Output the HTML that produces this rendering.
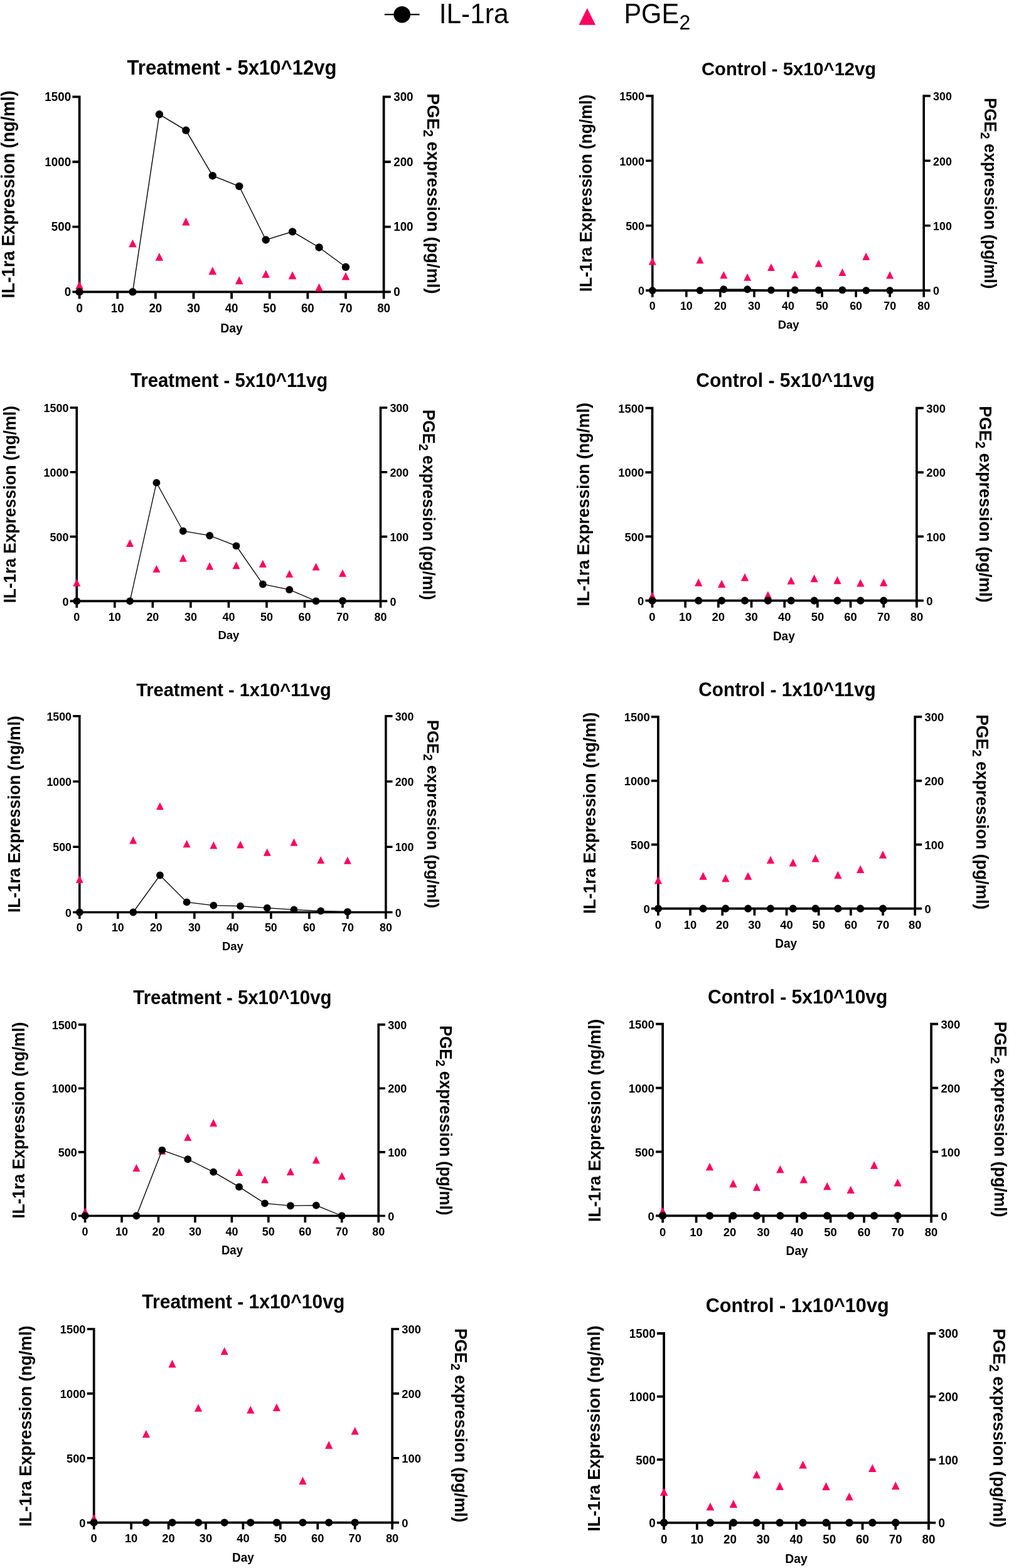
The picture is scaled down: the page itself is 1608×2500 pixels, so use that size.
<!DOCTYPE html>
<html lang="en">
<head>
<meta charset="utf-8">
<title>IL-1ra and PGE2 expression</title>
<style>
html,body{margin:0;padding:0;background:#fff}
body{width:1608px;height:2500px;overflow:hidden}
svg{display:block}
svg text{font-family:"Liberation Sans", sans-serif;fill:#000}
svg .b, svg .b text{font-weight:bold}
</style>
</head>
<body>
<svg width="1608" height="2500" viewBox="0 0 1608 2500">
<rect width="1608" height="2500" fill="#fff"/>
<g class="legend">
<path d="M612.8 23.2H668.6" stroke="#000" stroke-width="2.3"/>
<circle cx="640.7" cy="23.2" r="13.3"/>
<text transform="translate(699.7 37) scale(0.988 1.020)" font-size="43">IL-1ra</text>
<path d="M935.8 13.1L949.1 39.7L922.5 39.7Z" fill="#FF0062"/>
<text transform="translate(994.4 37) scale(0.966 1.020)" font-size="43">PGE</text>
<text transform="translate(1082.6 46.6) scale(1 1.02)" font-size="32">2</text>
</g>
<g class="panel">
<text class="b" transform="translate(369.5 119.2) scale(1 1.04)" font-size="31.05" text-anchor="middle">Treatment - 5x10^12vg</text>
<path d="M126.6 152.4V467.3M611.6 152.4V467.3M124.7 465.4H613.5M115.4 465.4H126.6M611.6 465.4H622.8M115.4 361.7H126.6M611.6 361.7H622.8M115.4 258H126.6M611.6 258H622.8M115.4 154.3H126.6M611.6 154.3H622.8M126.6 465.4V476.6M187.22 465.4V476.6M247.85 465.4V476.6M308.48 465.4V476.6M369.1 465.4V476.6M429.73 465.4V476.6M490.35 465.4V476.6M550.98 465.4V476.6M611.6 465.4V476.6" fill="none" stroke="#000" stroke-width="3.8"/>
<g class="b" font-size="18.8">
<g text-anchor="end">
<text transform="translate(113.1 471.93) scale(1 1.04)">0</text>
<text transform="translate(113.1 368.23) scale(1 1.04)">500</text>
<text transform="translate(113.1 264.53) scale(1 1.04)">1000</text>
<text transform="translate(113.1 160.83) scale(1 1.04)">1500</text>
</g><g>
<text transform="translate(627.2 471.93) scale(1 1.04)">0</text>
<text transform="translate(627.2 368.23) scale(1 1.04)">100</text>
<text transform="translate(627.2 264.53) scale(1 1.04)">200</text>
<text transform="translate(627.2 160.83) scale(1 1.04)">300</text>
</g><g text-anchor="middle">
<text transform="translate(126.6 498.1) scale(1 1.04)">0</text>
<text transform="translate(187.22 498.1) scale(1 1.04)">10</text>
<text transform="translate(247.85 498.1) scale(1 1.04)">20</text>
<text transform="translate(308.48 498.1) scale(1 1.04)">30</text>
<text transform="translate(369.1 498.1) scale(1 1.04)">40</text>
<text transform="translate(429.73 498.1) scale(1 1.04)">50</text>
<text transform="translate(490.35 498.1) scale(1 1.04)">60</text>
<text transform="translate(550.98 498.1) scale(1 1.04)">70</text>
<text transform="translate(611.6 498.1) scale(1 1.04)">80</text>
</g></g>
<text class="b" font-size="27.6" letter-spacing="0" text-anchor="middle" transform="translate(23.4 309.85) rotate(-90) scale(1 1.04)">IL-1ra Expression (ng/ml)</text>
<text class="b" font-size="27.31" letter-spacing="0" text-anchor="middle" transform="translate(681.1 308.75) rotate(90) scale(1 1.04)">PGE<tspan font-size="20.76" dy="6.01">2</tspan><tspan dy="-6.01"> expression (pg/ml)</tspan></text>
<text class="b" font-size="19.4" text-anchor="middle" transform="translate(369.1 530) scale(1 1.04)">Day</text>
<path d="M126.6 448.32L132.9 460.92L120.3 460.92ZM211.47 381.64L217.78 394.24L205.17 394.24ZM253.91 403.1L260.21 415.7L247.61 415.7ZM296.35 346.79L302.65 359.39L290.05 359.39ZM338.79 425.29L345.09 437.89L332.49 437.89ZM381.23 440.54L387.53 453.14L374.93 453.14ZM423.66 430.38L429.96 442.98L417.36 442.98ZM466.1 432.55L472.4 445.15L459.8 445.15ZM508.54 451.84L514.84 464.44L502.24 464.44ZM550.98 434L557.27 446.6L544.68 446.6Z" fill="#FF0062"/>
<polyline points="126.6,465.4 211.47,465.4 253.91,182.3 296.35,207.81 338.79,280.19 381.23,296.99 423.66,382.44 466.1,369.37 508.54,394.47 550.98,425.79" fill="none" stroke="#000" stroke-width="1.4"/>
<circle cx="126.6" cy="465.4" r="6.2"/>
<circle cx="211.47" cy="465.4" r="6.2"/>
<circle cx="253.91" cy="182.3" r="6.2"/>
<circle cx="296.35" cy="207.81" r="6.2"/>
<circle cx="338.79" cy="280.19" r="6.2"/>
<circle cx="381.23" cy="296.99" r="6.2"/>
<circle cx="423.66" cy="382.44" r="6.2"/>
<circle cx="466.1" cy="369.37" r="6.2"/>
<circle cx="508.54" cy="394.47" r="6.2"/>
<circle cx="550.98" cy="425.79" r="6.2"/>
</g>
<g class="panel">
<text class="b" transform="translate(1257.1 119.5) scale(1 1.04)" font-size="29.19" text-anchor="middle">Control - 5x10^12vg</text>
<path d="M1039.8 151.09V464.91M1472.2 151.09V464.91M1037.99 463.1H1474.01M1029.16 463.1H1039.8M1472.2 463.1H1482.84M1029.16 359.7H1039.8M1472.2 359.7H1482.84M1029.16 256.3H1039.8M1472.2 256.3H1482.84M1029.16 152.9H1039.8M1472.2 152.9H1482.84M1039.8 463.1V473.74M1093.85 463.1V473.74M1147.9 463.1V473.74M1201.95 463.1V473.74M1256 463.1V473.74M1310.05 463.1V473.74M1364.1 463.1V473.74M1418.15 463.1V473.74M1472.2 463.1V473.74" fill="none" stroke="#000" stroke-width="3.61"/>
<g class="b" font-size="17.86">
<g text-anchor="end">
<text transform="translate(1026.97 470.44) scale(1 1.04)">0</text>
<text transform="translate(1026.97 367.04) scale(1 1.04)">500</text>
<text transform="translate(1026.97 263.64) scale(1 1.04)">1000</text>
<text transform="translate(1026.97 160.24) scale(1 1.04)">1500</text>
</g><g>
<text transform="translate(1487.02 470.44) scale(1 1.04)">0</text>
<text transform="translate(1487.02 367.04) scale(1 1.04)">100</text>
<text transform="translate(1487.02 263.64) scale(1 1.04)">200</text>
<text transform="translate(1487.02 160.24) scale(1 1.04)">300</text>
</g><g text-anchor="middle">
<text transform="translate(1039.8 494.17) scale(1 1.04)">0</text>
<text transform="translate(1093.85 494.17) scale(1 1.04)">10</text>
<text transform="translate(1147.9 494.17) scale(1 1.04)">20</text>
<text transform="translate(1201.95 494.17) scale(1 1.04)">30</text>
<text transform="translate(1256 494.17) scale(1 1.04)">40</text>
<text transform="translate(1310.05 494.17) scale(1 1.04)">50</text>
<text transform="translate(1364.1 494.17) scale(1 1.04)">60</text>
<text transform="translate(1418.15 494.17) scale(1 1.04)">70</text>
<text transform="translate(1472.2 494.17) scale(1 1.04)">80</text>
</g></g>
<text class="b" font-size="26.22" letter-spacing="0" text-anchor="middle" transform="translate(942.7 308) rotate(-90) scale(1 1.04)">IL-1ra Expression (ng/ml)</text>
<text class="b" font-size="26.04" letter-spacing="0" text-anchor="middle" transform="translate(1568.9 308.15) rotate(90) scale(1 1.04)">PGE<tspan font-size="19.79" dy="5.73">2</tspan><tspan dy="-5.73"> expression (pg/ml)</tspan></text>
<text class="b" font-size="18.43" text-anchor="middle" transform="translate(1256.6 523.7) scale(1 1.04)">Day</text>
<path d="M1039.8 410.48L1045.78 422.45L1033.82 422.45ZM1115.47 408.31L1121.45 420.28L1109.49 420.28ZM1153.31 432.4L1159.29 444.37L1147.32 444.37ZM1191.14 435.71L1197.12 447.68L1185.15 447.68ZM1228.97 419.99L1234.96 431.96L1222.99 431.96ZM1266.81 431.58L1272.79 443.55L1260.83 443.55ZM1304.64 413.79L1310.63 425.76L1298.66 425.76ZM1342.48 427.96L1348.46 439.93L1336.5 439.93ZM1380.32 402.83L1386.3 414.8L1374.33 414.8ZM1418.15 432.61L1424.13 444.58L1412.17 444.58Z" fill="#FF0062"/>
<polyline points="1039.8,463.1 1115.47,463.1 1153.31,461.24 1191.14,461.24 1228.97,462.69 1266.81,462.48 1304.64,462.69 1342.48,462.48 1380.32,463.1 1418.15,463.1" fill="none" stroke="#000" stroke-width="1.33"/>
<circle cx="1039.8" cy="463.1" r="5.89"/>
<circle cx="1115.47" cy="463.1" r="5.89"/>
<circle cx="1153.31" cy="461.24" r="5.89"/>
<circle cx="1191.14" cy="461.24" r="5.89"/>
<circle cx="1228.97" cy="462.69" r="5.89"/>
<circle cx="1266.81" cy="462.48" r="5.89"/>
<circle cx="1304.64" cy="462.69" r="5.89"/>
<circle cx="1342.48" cy="462.48" r="5.89"/>
<circle cx="1380.32" cy="463.1" r="5.89"/>
<circle cx="1418.15" cy="463.1" r="5.89"/>
</g>
<g class="panel">
<text class="b" transform="translate(365.1 617) scale(1 1.04)" font-size="29.39" text-anchor="middle">Treatment - 5x10^11vg</text>
<path d="M122.3 648.19V960.21M606.5 648.19V960.21M120.49 958.4H608.31M111.6 958.4H122.3M606.5 958.4H617.2M111.6 855.6H122.3M606.5 855.6H617.2M111.6 752.8H122.3M606.5 752.8H617.2M111.6 650H122.3M606.5 650H617.2M122.3 958.4V969.1M182.82 958.4V969.1M243.35 958.4V969.1M303.88 958.4V969.1M364.4 958.4V969.1M424.93 958.4V969.1M485.45 958.4V969.1M545.98 958.4V969.1M606.5 958.4V969.1" fill="none" stroke="#000" stroke-width="3.63"/>
<g class="b" font-size="17.95">
<g text-anchor="end">
<text transform="translate(109.41 965.5) scale(1 1.04)">0</text>
<text transform="translate(109.41 862.7) scale(1 1.04)">500</text>
<text transform="translate(109.41 759.9) scale(1 1.04)">1000</text>
<text transform="translate(109.41 657.1) scale(1 1.04)">1500</text>
</g><g>
<text transform="translate(621.4 965.5) scale(1 1.04)">0</text>
<text transform="translate(621.4 862.7) scale(1 1.04)">100</text>
<text transform="translate(621.4 759.9) scale(1 1.04)">200</text>
<text transform="translate(621.4 657.1) scale(1 1.04)">300</text>
</g><g text-anchor="middle">
<text transform="translate(122.3 989.63) scale(1 1.04)">0</text>
<text transform="translate(182.82 989.63) scale(1 1.04)">10</text>
<text transform="translate(243.35 989.63) scale(1 1.04)">20</text>
<text transform="translate(303.88 989.63) scale(1 1.04)">30</text>
<text transform="translate(364.4 989.63) scale(1 1.04)">40</text>
<text transform="translate(424.93 989.63) scale(1 1.04)">50</text>
<text transform="translate(485.45 989.63) scale(1 1.04)">60</text>
<text transform="translate(545.98 989.63) scale(1 1.04)">70</text>
<text transform="translate(606.5 989.63) scale(1 1.04)">80</text>
</g></g>
<text class="b" font-size="26.22" letter-spacing="0" text-anchor="middle" transform="translate(25.4 804.2) rotate(-90) scale(1 1.04)">IL-1ra Expression (ng/ml)</text>
<text class="b" font-size="25.94" letter-spacing="0" text-anchor="middle" transform="translate(673.5 804.8) rotate(90) scale(1 1.04)">PGE<tspan font-size="19.72" dy="5.71">2</tspan><tspan dy="-5.71"> expression (pg/ml)</tspan></text>
<text class="b" font-size="18.53" text-anchor="middle" transform="translate(364.4 1019.1) scale(1 1.04)">Day</text>
<path d="M122.3 922.98L128.32 935.02L116.28 935.02ZM207.03 859.86L213.05 871.9L201.02 871.9ZM249.4 900.78L255.42 912.81L243.39 912.81ZM291.77 883.61L297.79 895.64L285.75 895.64ZM334.14 896.36L340.15 908.39L328.12 908.39ZM376.5 895.33L382.52 907.36L370.49 907.36ZM418.87 892.76L424.89 904.79L412.86 904.79ZM461.24 908.8L467.26 920.83L455.22 920.83ZM503.61 897.49L509.62 909.52L497.59 909.52ZM545.98 907.67L551.99 919.7L539.96 919.7Z" fill="#FF0062"/>
<polyline points="122.3,958.4 207.03,958.4 249.4,769.66 291.77,846.76 334.14,853.96 376.5,870.4 418.87,931.47 461.24,940.2 503.61,958.4 545.98,957.99" fill="none" stroke="#000" stroke-width="1.34"/>
<circle cx="122.3" cy="958.4" r="5.92"/>
<circle cx="207.03" cy="958.4" r="5.92"/>
<circle cx="249.4" cy="769.66" r="5.92"/>
<circle cx="291.77" cy="846.76" r="5.92"/>
<circle cx="334.14" cy="853.96" r="5.92"/>
<circle cx="376.5" cy="870.4" r="5.92"/>
<circle cx="418.87" cy="931.47" r="5.92"/>
<circle cx="461.24" cy="940.2" r="5.92"/>
<circle cx="503.61" cy="958.4" r="5.92"/>
<circle cx="545.98" cy="957.99" r="5.92"/>
</g>
<g class="panel">
<text class="b" transform="translate(1251.6 617.1) scale(1 1.04)" font-size="30.06" text-anchor="middle">Control - 5x10^11vg</text>
<path d="M1039.5 648.84V959.56M1460.9 648.84V959.56M1037.64 957.7H1462.76M1028.52 957.7H1039.5M1460.9 957.7H1471.88M1028.52 855.37H1039.5M1460.9 855.37H1471.88M1028.52 753.03H1039.5M1460.9 753.03H1471.88M1028.52 650.7H1039.5M1460.9 650.7H1471.88M1039.5 957.7V968.68M1092.17 957.7V968.68M1144.85 957.7V968.68M1197.53 957.7V968.68M1250.2 957.7V968.68M1302.88 957.7V968.68M1355.55 957.7V968.68M1408.23 957.7V968.68M1460.9 957.7V968.68" fill="none" stroke="#000" stroke-width="3.72"/>
<g class="b" font-size="18.42">
<g text-anchor="end">
<text transform="translate(1026.27 964.88) scale(1 1.04)">0</text>
<text transform="translate(1026.27 862.55) scale(1 1.04)">500</text>
<text transform="translate(1026.27 760.22) scale(1 1.04)">1000</text>
<text transform="translate(1026.27 657.88) scale(1 1.04)">1500</text>
</g><g>
<text transform="translate(1476.19 964.88) scale(1 1.04)">0</text>
<text transform="translate(1476.19 862.55) scale(1 1.04)">100</text>
<text transform="translate(1476.19 760.22) scale(1 1.04)">200</text>
<text transform="translate(1476.19 657.88) scale(1 1.04)">300</text>
</g><g text-anchor="middle">
<text transform="translate(1039.5 989.75) scale(1 1.04)">0</text>
<text transform="translate(1092.17 989.75) scale(1 1.04)">10</text>
<text transform="translate(1144.85 989.75) scale(1 1.04)">20</text>
<text transform="translate(1197.53 989.75) scale(1 1.04)">30</text>
<text transform="translate(1250.2 989.75) scale(1 1.04)">40</text>
<text transform="translate(1302.88 989.75) scale(1 1.04)">50</text>
<text transform="translate(1355.55 989.75) scale(1 1.04)">60</text>
<text transform="translate(1408.23 989.75) scale(1 1.04)">70</text>
<text transform="translate(1460.9 989.75) scale(1 1.04)">80</text>
</g></g>
<text class="b" font-size="27.05" letter-spacing="0" text-anchor="middle" transform="translate(938.9 804.2) rotate(-90) scale(1 1.04)">IL-1ra Expression (ng/ml)</text>
<text class="b" font-size="26.8" letter-spacing="0" text-anchor="middle" transform="translate(1561.4 803.9) rotate(90) scale(1 1.04)">PGE<tspan font-size="20.37" dy="5.9">2</tspan><tspan dy="-5.9"> expression (pg/ml)</tspan></text>
<text class="b" font-size="19.01" text-anchor="middle" transform="translate(1249.3 1020.8) scale(1 1.04)">Day</text>
<path d="M1039.5 943.85L1045.67 956.2L1033.33 956.2ZM1113.25 922.36L1119.42 934.71L1107.07 934.71ZM1150.12 924.61L1156.29 936.96L1143.94 936.96ZM1186.99 914.07L1193.16 926.42L1180.82 926.42ZM1223.86 942.42L1230.04 954.77L1217.69 954.77ZM1260.74 919.5L1266.91 931.84L1254.56 931.84ZM1297.61 915.91L1303.78 928.26L1291.43 928.26ZM1334.48 918.78L1340.65 931.13L1328.31 931.13ZM1371.35 923.18L1377.53 935.53L1365.18 935.53ZM1408.23 922.36L1414.4 934.71L1402.05 934.71Z" fill="#FF0062"/>
<polyline points="1039.5,957.7 1113.25,957.7 1150.12,957.7 1186.99,957.7 1223.86,957.7 1260.74,957.7 1297.61,957.7 1334.48,957.7 1371.35,957.7 1408.23,957.7" fill="none" stroke="#000" stroke-width="1.37"/>
<circle cx="1039.5" cy="957.7" r="6.08"/>
<circle cx="1113.25" cy="957.7" r="6.08"/>
<circle cx="1150.12" cy="957.7" r="6.08"/>
<circle cx="1186.99" cy="957.7" r="6.08"/>
<circle cx="1223.86" cy="957.7" r="6.08"/>
<circle cx="1260.74" cy="957.7" r="6.08"/>
<circle cx="1297.61" cy="957.7" r="6.08"/>
<circle cx="1334.48" cy="957.7" r="6.08"/>
<circle cx="1371.35" cy="957.7" r="6.08"/>
<circle cx="1408.23" cy="957.7" r="6.08"/>
</g>
<g class="panel">
<text class="b" transform="translate(372.45 1109.9) scale(1 1.04)" font-size="29.03" text-anchor="middle">Treatment - 1x10^11vg</text>
<path d="M126.8 1140V1456.3M614.9 1140V1456.3M125 1454.5H616.7M116.18 1454.5H126.8M614.9 1454.5H625.52M116.18 1350.27H126.8M614.9 1350.27H625.52M116.18 1246.03H126.8M614.9 1246.03H625.52M116.18 1141.8H126.8M614.9 1141.8H625.52M126.8 1454.5V1465.12M187.81 1454.5V1465.12M248.82 1454.5V1465.12M309.84 1454.5V1465.12M370.85 1454.5V1465.12M431.86 1454.5V1465.12M492.87 1454.5V1465.12M553.89 1454.5V1465.12M614.9 1454.5V1465.12" fill="none" stroke="#000" stroke-width="3.6"/>
<g class="b" font-size="17.82">
<g text-anchor="end">
<text transform="translate(114 1461.54) scale(1 1.04)">0</text>
<text transform="translate(114 1357.31) scale(1 1.04)">500</text>
<text transform="translate(114 1253.08) scale(1 1.04)">1000</text>
<text transform="translate(114 1148.84) scale(1 1.04)">1500</text>
</g><g>
<text transform="translate(629.69 1461.54) scale(1 1.04)">0</text>
<text transform="translate(629.69 1357.31) scale(1 1.04)">100</text>
<text transform="translate(629.69 1253.08) scale(1 1.04)">200</text>
<text transform="translate(629.69 1148.84) scale(1 1.04)">300</text>
</g><g text-anchor="middle">
<text transform="translate(126.8 1485.03) scale(1 1.04)">0</text>
<text transform="translate(187.81 1485.03) scale(1 1.04)">10</text>
<text transform="translate(248.82 1485.03) scale(1 1.04)">20</text>
<text transform="translate(309.84 1485.03) scale(1 1.04)">30</text>
<text transform="translate(370.85 1485.03) scale(1 1.04)">40</text>
<text transform="translate(431.86 1485.03) scale(1 1.04)">50</text>
<text transform="translate(492.87 1485.03) scale(1 1.04)">60</text>
<text transform="translate(553.89 1485.03) scale(1 1.04)">70</text>
<text transform="translate(614.9 1485.03) scale(1 1.04)">80</text>
</g></g>
<text class="b" font-size="26.16" letter-spacing="0" text-anchor="middle" transform="translate(32.2 1298.15) rotate(-90) scale(1 1.04)">IL-1ra Expression (ng/ml)</text>
<text class="b" font-size="25.67" letter-spacing="0" text-anchor="middle" transform="translate(680.8 1297.95) rotate(90) scale(1 1.04)">PGE<tspan font-size="19.51" dy="5.65">2</tspan><tspan dy="-5.65"> expression (pg/ml)</tspan></text>
<text class="b" font-size="18.39" text-anchor="middle" transform="translate(370.85 1514.7) scale(1 1.04)">Day</text>
<path d="M126.8 1395.79L132.77 1407.73L120.83 1407.73ZM212.22 1333.45L218.19 1345.4L206.25 1345.4ZM254.93 1279.25L260.9 1291.2L248.95 1291.2ZM297.63 1339.29L303.61 1351.24L291.66 1351.24ZM340.34 1341.48L346.32 1353.42L334.37 1353.42ZM383.05 1340.44L389.02 1352.38L377.08 1352.38ZM425.76 1352.74L431.73 1364.68L419.79 1364.68ZM468.47 1336.79L474.44 1348.73L462.5 1348.73ZM511.18 1365.14L517.15 1377.09L505.21 1377.09ZM553.89 1365.87L559.86 1377.82L547.92 1377.82Z" fill="#FF0062"/>
<polyline points="126.8,1454.5 212.22,1454.5 254.93,1395.5 297.63,1438.45 340.34,1443.66 383.05,1444.7 425.76,1447.62 468.47,1450.33 511.18,1452.42 553.89,1453.77" fill="none" stroke="#000" stroke-width="1.33"/>
<circle cx="126.8" cy="1454.5" r="5.88"/>
<circle cx="212.22" cy="1454.5" r="5.88"/>
<circle cx="254.93" cy="1395.5" r="5.88"/>
<circle cx="297.63" cy="1438.45" r="5.88"/>
<circle cx="340.34" cy="1443.66" r="5.88"/>
<circle cx="383.05" cy="1444.7" r="5.88"/>
<circle cx="425.76" cy="1447.62" r="5.88"/>
<circle cx="468.47" cy="1450.33" r="5.88"/>
<circle cx="511.18" cy="1452.42" r="5.88"/>
<circle cx="553.89" cy="1453.77" r="5.88"/>
</g>
<g class="panel">
<text class="b" transform="translate(1254.55 1109.9) scale(1 1.04)" font-size="29.81" text-anchor="middle">Control - 1x10^11vg</text>
<path d="M1048.9 1140.94V1450.56M1458.2 1140.94V1450.56M1047.04 1448.7H1460.06M1037.92 1448.7H1048.9M1458.2 1448.7H1469.18M1037.92 1346.73H1048.9M1458.2 1346.73H1469.18M1037.92 1244.77H1048.9M1458.2 1244.77H1469.18M1037.92 1142.8H1048.9M1458.2 1142.8H1469.18M1048.9 1448.7V1459.68M1100.06 1448.7V1459.68M1151.23 1448.7V1459.68M1202.39 1448.7V1459.68M1253.55 1448.7V1459.68M1304.71 1448.7V1459.68M1355.88 1448.7V1459.68M1407.04 1448.7V1459.68M1458.2 1448.7V1459.68" fill="none" stroke="#000" stroke-width="3.72"/>
<g class="b" font-size="18.42">
<g text-anchor="end">
<text transform="translate(1035.67 1455.98) scale(1 1.04)">0</text>
<text transform="translate(1035.67 1354.02) scale(1 1.04)">500</text>
<text transform="translate(1035.67 1252.05) scale(1 1.04)">1000</text>
<text transform="translate(1035.67 1150.08) scale(1 1.04)">1500</text>
</g><g>
<text transform="translate(1473.49 1455.98) scale(1 1.04)">0</text>
<text transform="translate(1473.49 1354.02) scale(1 1.04)">100</text>
<text transform="translate(1473.49 1252.05) scale(1 1.04)">200</text>
<text transform="translate(1473.49 1150.08) scale(1 1.04)">300</text>
</g><g text-anchor="middle">
<text transform="translate(1048.9 1480.75) scale(1 1.04)">0</text>
<text transform="translate(1100.06 1480.75) scale(1 1.04)">10</text>
<text transform="translate(1151.23 1480.75) scale(1 1.04)">20</text>
<text transform="translate(1202.39 1480.75) scale(1 1.04)">30</text>
<text transform="translate(1253.55 1480.75) scale(1 1.04)">40</text>
<text transform="translate(1304.71 1480.75) scale(1 1.04)">50</text>
<text transform="translate(1355.88 1480.75) scale(1 1.04)">60</text>
<text transform="translate(1407.04 1480.75) scale(1 1.04)">70</text>
<text transform="translate(1458.2 1480.75) scale(1 1.04)">80</text>
</g></g>
<text class="b" font-size="26.8" letter-spacing="0" text-anchor="middle" transform="translate(949.2 1296.35) rotate(-90) scale(1 1.04)">IL-1ra Expression (ng/ml)</text>
<text class="b" font-size="26.59" letter-spacing="0" text-anchor="middle" transform="translate(1555.8 1294.65) rotate(90) scale(1 1.04)">PGE<tspan font-size="20.21" dy="5.85">2</tspan><tspan dy="-5.85"> expression (pg/ml)</tspan></text>
<text class="b" font-size="19.01" text-anchor="middle" transform="translate(1252.75 1510.5) scale(1 1.04)">Day</text>
<path d="M1048.9 1397.15L1055.07 1409.5L1042.73 1409.5ZM1120.53 1390.52L1126.7 1402.87L1114.35 1402.87ZM1156.34 1393.79L1162.52 1406.13L1150.17 1406.13ZM1192.15 1390.52L1198.33 1402.87L1185.98 1402.87ZM1227.97 1364.73L1234.14 1377.07L1221.79 1377.07ZM1263.78 1369.11L1269.96 1381.46L1257.61 1381.46ZM1299.6 1362.18L1305.77 1374.52L1293.42 1374.52ZM1335.41 1388.69L1341.58 1401.04L1329.24 1401.04ZM1371.22 1379.61L1377.4 1391.96L1365.05 1391.96ZM1407.04 1356.36L1413.21 1368.71L1400.86 1368.71Z" fill="#FF0062"/>
<polyline points="1048.9,1448.7 1120.53,1448.7 1156.34,1448.7 1192.15,1448.7 1227.97,1448.7 1263.78,1448.7 1299.6,1448.7 1335.41,1448.7 1371.22,1448.7 1407.04,1448.7" fill="none" stroke="#000" stroke-width="1.37"/>
<circle cx="1048.9" cy="1448.7" r="6.08"/>
<circle cx="1120.53" cy="1448.7" r="6.08"/>
<circle cx="1156.34" cy="1448.7" r="6.08"/>
<circle cx="1192.15" cy="1448.7" r="6.08"/>
<circle cx="1227.97" cy="1448.7" r="6.08"/>
<circle cx="1263.78" cy="1448.7" r="6.08"/>
<circle cx="1299.6" cy="1448.7" r="6.08"/>
<circle cx="1335.41" cy="1448.7" r="6.08"/>
<circle cx="1371.22" cy="1448.7" r="6.08"/>
<circle cx="1407.04" cy="1448.7" r="6.08"/>
</g>
<g class="panel">
<text class="b" transform="translate(370.4 1600.8) scale(1 1.04)" font-size="29.4" text-anchor="middle">Treatment - 5x10^10vg</text>
<path d="M135.6 1631.78V1940.32M603.2 1631.78V1940.32M133.78 1938.5H605.02M124.87 1938.5H135.6M603.2 1938.5H613.93M124.87 1836.87H135.6M603.2 1836.87H613.93M124.87 1735.23H135.6M603.2 1735.23H613.93M124.87 1633.6H135.6M603.2 1633.6H613.93M135.6 1938.5V1949.23M194.05 1938.5V1949.23M252.5 1938.5V1949.23M310.95 1938.5V1949.23M369.4 1938.5V1949.23M427.85 1938.5V1949.23M486.3 1938.5V1949.23M544.75 1938.5V1949.23M603.2 1938.5V1949.23" fill="none" stroke="#000" stroke-width="3.64"/>
<g class="b" font-size="18.01">
<g text-anchor="end">
<text transform="translate(122.67 1945.62) scale(1 1.04)">0</text>
<text transform="translate(122.67 1843.98) scale(1 1.04)">500</text>
<text transform="translate(122.67 1742.35) scale(1 1.04)">1000</text>
<text transform="translate(122.67 1640.72) scale(1 1.04)">1500</text>
</g><g>
<text transform="translate(618.14 1945.62) scale(1 1.04)">0</text>
<text transform="translate(618.14 1843.98) scale(1 1.04)">100</text>
<text transform="translate(618.14 1742.35) scale(1 1.04)">200</text>
<text transform="translate(618.14 1640.72) scale(1 1.04)">300</text>
</g><g text-anchor="middle">
<text transform="translate(135.6 1969.83) scale(1 1.04)">0</text>
<text transform="translate(194.05 1969.83) scale(1 1.04)">10</text>
<text transform="translate(252.5 1969.83) scale(1 1.04)">20</text>
<text transform="translate(310.95 1969.83) scale(1 1.04)">30</text>
<text transform="translate(369.4 1969.83) scale(1 1.04)">40</text>
<text transform="translate(427.85 1969.83) scale(1 1.04)">50</text>
<text transform="translate(486.3 1969.83) scale(1 1.04)">60</text>
<text transform="translate(544.75 1969.83) scale(1 1.04)">70</text>
<text transform="translate(603.2 1969.83) scale(1 1.04)">80</text>
</g></g>
<text class="b" font-size="26.11" letter-spacing="0" text-anchor="middle" transform="translate(38.7 1786.25) rotate(-90) scale(1 1.04)">IL-1ra Expression (ng/ml)</text>
<text class="b" font-size="25.86" letter-spacing="0" text-anchor="middle" transform="translate(700.7 1786.25) rotate(90) scale(1 1.04)">PGE<tspan font-size="19.65" dy="5.69">2</tspan><tspan dy="-5.69"> expression (pg/ml)</tspan></text>
<text class="b" font-size="18.59" text-anchor="middle" transform="translate(370 2000) scale(1 1.04)">Day</text>
<path d="M135.6 1925.55L141.64 1937.62L129.56 1937.62ZM217.43 1856.04L223.47 1868.11L211.39 1868.11ZM258.35 1828.8L264.38 1840.87L252.31 1840.87ZM299.26 1806.95L305.3 1819.02L293.22 1819.02ZM340.17 1784.08L346.21 1796.15L334.14 1796.15ZM381.09 1862.95L387.13 1875.02L375.05 1875.02ZM422 1874.53L428.04 1886.6L415.97 1886.6ZM462.92 1861.83L468.96 1873.9L456.88 1873.9ZM503.84 1843.13L509.87 1855.2L497.8 1855.2ZM544.75 1868.64L550.79 1880.71L538.71 1880.71Z" fill="#FF0062"/>
<polyline points="135.6,1938.5 217.43,1938.5 258.35,1833.82 299.26,1848.25 340.17,1868.58 381.09,1892.36 422,1918.58 462.92,1922.44 503.84,1921.83 544.75,1938.5" fill="none" stroke="#000" stroke-width="1.34"/>
<circle cx="135.6" cy="1938.5" r="5.94"/>
<circle cx="217.43" cy="1938.5" r="5.94"/>
<circle cx="258.35" cy="1833.82" r="5.94"/>
<circle cx="299.26" cy="1848.25" r="5.94"/>
<circle cx="340.17" cy="1868.58" r="5.94"/>
<circle cx="381.09" cy="1892.36" r="5.94"/>
<circle cx="422" cy="1918.58" r="5.94"/>
<circle cx="462.92" cy="1922.44" r="5.94"/>
<circle cx="503.84" cy="1921.83" r="5.94"/>
<circle cx="544.75" cy="1938.5" r="5.94"/>
</g>
<g class="panel">
<text class="b" transform="translate(1271.2 1600.3) scale(1 1.04)" font-size="30.06" text-anchor="middle">Control - 5x10^10vg</text>
<path d="M1056.1 1630.73V1940.27M1484.1 1630.73V1940.27M1054.23 1938.4H1485.97M1045.09 1938.4H1056.1M1484.1 1938.4H1495.11M1045.09 1836.47H1056.1M1484.1 1836.47H1495.11M1045.09 1734.53H1056.1M1484.1 1734.53H1495.11M1045.09 1632.6H1056.1M1484.1 1632.6H1495.11M1056.1 1938.4V1949.41M1109.6 1938.4V1949.41M1163.1 1938.4V1949.41M1216.6 1938.4V1949.41M1270.1 1938.4V1949.41M1323.6 1938.4V1949.41M1377.1 1938.4V1949.41M1430.6 1938.4V1949.41M1484.1 1938.4V1949.41" fill="none" stroke="#000" stroke-width="3.74"/>
<g class="b" font-size="18.48">
<g text-anchor="end">
<text transform="translate(1042.83 1945.7) scale(1 1.04)">0</text>
<text transform="translate(1042.83 1843.77) scale(1 1.04)">500</text>
<text transform="translate(1042.83 1741.84) scale(1 1.04)">1000</text>
<text transform="translate(1042.83 1639.9) scale(1 1.04)">1500</text>
</g><g>
<text transform="translate(1499.43 1945.7) scale(1 1.04)">0</text>
<text transform="translate(1499.43 1843.77) scale(1 1.04)">100</text>
<text transform="translate(1499.43 1741.84) scale(1 1.04)">200</text>
<text transform="translate(1499.43 1639.9) scale(1 1.04)">300</text>
</g><g text-anchor="middle">
<text transform="translate(1056.1 1970.54) scale(1 1.04)">0</text>
<text transform="translate(1109.6 1970.54) scale(1 1.04)">10</text>
<text transform="translate(1163.1 1970.54) scale(1 1.04)">20</text>
<text transform="translate(1216.6 1970.54) scale(1 1.04)">30</text>
<text transform="translate(1270.1 1970.54) scale(1 1.04)">40</text>
<text transform="translate(1323.6 1970.54) scale(1 1.04)">50</text>
<text transform="translate(1377.1 1970.54) scale(1 1.04)">60</text>
<text transform="translate(1430.6 1970.54) scale(1 1.04)">70</text>
<text transform="translate(1484.1 1970.54) scale(1 1.04)">80</text>
</g></g>
<text class="b" font-size="26.95" letter-spacing="0" text-anchor="middle" transform="translate(956.6 1786.5) rotate(-90) scale(1 1.04)">IL-1ra Expression (ng/ml)</text>
<text class="b" font-size="26.67" letter-spacing="0" text-anchor="middle" transform="translate(1584.8 1784.6) rotate(90) scale(1 1.04)">PGE<tspan font-size="20.27" dy="5.87">2</tspan><tspan dy="-5.87"> expression (pg/ml)</tspan></text>
<text class="b" font-size="19.07" text-anchor="middle" transform="translate(1270.1 2000.8) scale(1 1.04)">Day</text>
<path d="M1056.1 1924.56L1062.29 1936.95L1049.91 1936.95ZM1131 1853.92L1137.19 1866.31L1124.81 1866.31ZM1168.45 1880.83L1174.64 1893.22L1162.26 1893.22ZM1205.9 1886.34L1212.09 1898.72L1199.71 1898.72ZM1243.35 1857.9L1249.54 1870.28L1237.16 1870.28ZM1280.8 1874L1286.99 1886.39L1274.61 1886.39ZM1318.25 1884.91L1324.44 1897.3L1312.06 1897.3ZM1355.7 1890.72L1361.89 1903.11L1349.51 1903.11ZM1393.15 1851.27L1399.34 1863.66L1386.96 1863.66ZM1430.6 1879.2L1436.79 1891.59L1424.41 1891.59Z" fill="#FF0062"/>
<polyline points="1056.1,1938.4 1131,1938.4 1168.45,1938.4 1205.9,1938.4 1243.35,1938.4 1280.8,1938.4 1318.25,1938.4 1355.7,1938.4 1393.15,1938.4 1430.6,1938.4" fill="none" stroke="#000" stroke-width="1.38"/>
<circle cx="1056.1" cy="1938.4" r="6.09"/>
<circle cx="1131" cy="1938.4" r="6.09"/>
<circle cx="1168.45" cy="1938.4" r="6.09"/>
<circle cx="1205.9" cy="1938.4" r="6.09"/>
<circle cx="1243.35" cy="1938.4" r="6.09"/>
<circle cx="1280.8" cy="1938.4" r="6.09"/>
<circle cx="1318.25" cy="1938.4" r="6.09"/>
<circle cx="1355.7" cy="1938.4" r="6.09"/>
<circle cx="1393.15" cy="1938.4" r="6.09"/>
<circle cx="1430.6" cy="1938.4" r="6.09"/>
</g>
<g class="panel">
<text class="b" transform="translate(387.8 2086.3) scale(1 1.04)" font-size="30.03" text-anchor="middle">Treatment - 1x10^10vg</text>
<path d="M149.7 2117.15V2429.45M625.1 2117.15V2429.45M147.85 2427.6H626.95M138.78 2427.6H149.7M625.1 2427.6H636.02M138.78 2324.73H149.7M625.1 2324.73H636.02M138.78 2221.87H149.7M625.1 2221.87H636.02M138.78 2119H149.7M625.1 2119H636.02M149.7 2427.6V2438.52M209.12 2427.6V2438.52M268.55 2427.6V2438.52M327.98 2427.6V2438.52M387.4 2427.6V2438.52M446.82 2427.6V2438.52M506.25 2427.6V2438.52M565.67 2427.6V2438.52M625.1 2427.6V2438.52" fill="none" stroke="#000" stroke-width="3.7"/>
<g class="b" font-size="18.33">
<g text-anchor="end">
<text transform="translate(136.54 2434.84) scale(1 1.04)">0</text>
<text transform="translate(136.54 2331.98) scale(1 1.04)">500</text>
<text transform="translate(136.54 2229.11) scale(1 1.04)">1000</text>
<text transform="translate(136.54 2126.24) scale(1 1.04)">1500</text>
</g><g>
<text transform="translate(640.31 2434.84) scale(1 1.04)">0</text>
<text transform="translate(640.31 2331.98) scale(1 1.04)">100</text>
<text transform="translate(640.31 2229.11) scale(1 1.04)">200</text>
<text transform="translate(640.31 2126.24) scale(1 1.04)">300</text>
</g><g text-anchor="middle">
<text transform="translate(149.7 2459.48) scale(1 1.04)">0</text>
<text transform="translate(209.12 2459.48) scale(1 1.04)">10</text>
<text transform="translate(268.55 2459.48) scale(1 1.04)">20</text>
<text transform="translate(327.98 2459.48) scale(1 1.04)">30</text>
<text transform="translate(387.4 2459.48) scale(1 1.04)">40</text>
<text transform="translate(446.82 2459.48) scale(1 1.04)">50</text>
<text transform="translate(506.25 2459.48) scale(1 1.04)">60</text>
<text transform="translate(565.67 2459.48) scale(1 1.04)">70</text>
<text transform="translate(625.1 2459.48) scale(1 1.04)">80</text>
</g></g>
<text class="b" font-size="26.71" letter-spacing="0" text-anchor="middle" transform="translate(49.5 2273.7) rotate(-90) scale(1 1.04)">IL-1ra Expression (ng/ml)</text>
<text class="b" font-size="26.45" letter-spacing="0" text-anchor="middle" transform="translate(724.6 2272.6) rotate(90) scale(1 1.04)">PGE<tspan font-size="20.1" dy="5.82">2</tspan><tspan dy="-5.82"> expression (pg/ml)</tspan></text>
<text class="b" font-size="18.91" text-anchor="middle" transform="translate(387.4 2490.2) scale(1 1.04)">Day</text>
<path d="M149.7 2414.26L155.84 2426.54L143.56 2426.54ZM232.89 2279.91L239.04 2292.2L226.75 2292.2ZM274.49 2168.1L280.63 2180.38L268.35 2180.38ZM316.09 2238.46L322.23 2250.74L309.95 2250.74ZM357.69 2148.04L363.83 2160.32L351.55 2160.32ZM399.29 2241.44L405.43 2253.73L393.14 2253.73ZM440.88 2237.74L447.02 2250.02L434.74 2250.02ZM482.48 2354.59L488.62 2366.88L476.34 2366.88ZM524.08 2297.61L530.22 2309.89L517.93 2309.89ZM565.67 2275.18L571.82 2287.47L559.53 2287.47Z" fill="#FF0062"/>
<polyline points="149.7,2427.6 232.89,2427.6 274.49,2427.6 316.09,2427.6 357.69,2427.6 399.29,2427.6 440.88,2427.6 482.48,2427.6 524.08,2427.6 565.67,2427.6" fill="none" stroke="#000" stroke-width="1.36"/>
<circle cx="149.7" cy="2427.6" r="6.04"/>
<circle cx="232.89" cy="2427.6" r="6.04"/>
<circle cx="274.49" cy="2427.6" r="6.04"/>
<circle cx="316.09" cy="2427.6" r="6.04"/>
<circle cx="357.69" cy="2427.6" r="6.04"/>
<circle cx="399.29" cy="2427.6" r="6.04"/>
<circle cx="440.88" cy="2427.6" r="6.04"/>
<circle cx="482.48" cy="2427.6" r="6.04"/>
<circle cx="524.08" cy="2427.6" r="6.04"/>
<circle cx="565.67" cy="2427.6" r="6.04"/>
</g>
<g class="panel">
<text class="b" transform="translate(1270.65 2091.7) scale(1 1.04)" font-size="30.65" text-anchor="middle">Control - 1x10^10vg</text>
<path d="M1058.1 2124.1V2429.7M1480 2124.1V2429.7M1056.2 2427.8H1481.9M1046.9 2427.8H1058.1M1480 2427.8H1491.2M1046.9 2327.2H1058.1M1480 2327.2H1491.2M1046.9 2226.6H1058.1M1480 2226.6H1491.2M1046.9 2126H1058.1M1480 2126H1491.2M1058.1 2427.8V2439M1110.84 2427.8V2439M1163.57 2427.8V2439M1216.31 2427.8V2439M1269.05 2427.8V2439M1321.79 2427.8V2439M1374.53 2427.8V2439M1427.26 2427.8V2439M1480 2427.8V2439" fill="none" stroke="#000" stroke-width="3.8"/>
<g class="b" font-size="18.8">
<g text-anchor="end">
<text transform="translate(1044.6 2435.23) scale(1 1.04)">0</text>
<text transform="translate(1044.6 2334.63) scale(1 1.04)">500</text>
<text transform="translate(1044.6 2234.03) scale(1 1.04)">1000</text>
<text transform="translate(1044.6 2133.43) scale(1 1.04)">1500</text>
</g><g>
<text transform="translate(1495.6 2435.23) scale(1 1.04)">0</text>
<text transform="translate(1495.6 2334.63) scale(1 1.04)">100</text>
<text transform="translate(1495.6 2234.03) scale(1 1.04)">200</text>
<text transform="translate(1495.6 2133.43) scale(1 1.04)">300</text>
</g><g text-anchor="middle">
<text transform="translate(1058.1 2460.5) scale(1 1.04)">0</text>
<text transform="translate(1110.84 2460.5) scale(1 1.04)">10</text>
<text transform="translate(1163.57 2460.5) scale(1 1.04)">20</text>
<text transform="translate(1216.31 2460.5) scale(1 1.04)">30</text>
<text transform="translate(1269.05 2460.5) scale(1 1.04)">40</text>
<text transform="translate(1321.79 2460.5) scale(1 1.04)">50</text>
<text transform="translate(1374.53 2460.5) scale(1 1.04)">60</text>
<text transform="translate(1427.26 2460.5) scale(1 1.04)">70</text>
<text transform="translate(1480 2460.5) scale(1 1.04)">80</text>
</g></g>
<text class="b" font-size="27.37" letter-spacing="0" text-anchor="middle" transform="translate(956.3 2277.65) rotate(-90) scale(1 1.04)">IL-1ra Expression (ng/ml)</text>
<text class="b" font-size="27.13" letter-spacing="0" text-anchor="middle" transform="translate(1583.1 2276.9) rotate(90) scale(1 1.04)">PGE<tspan font-size="20.62" dy="5.97">2</tspan><tspan dy="-5.97"> expression (pg/ml)</tspan></text>
<text class="b" font-size="19.4" text-anchor="middle" transform="translate(1269.05 2492) scale(1 1.04)">Day</text>
<path d="M1058.1 2372.21L1064.4 2384.81L1051.8 2384.81ZM1131.93 2395.75L1138.23 2408.35L1125.63 2408.35ZM1168.85 2391.32L1175.15 2403.92L1162.55 2403.92ZM1205.76 2344.54L1212.06 2357.14L1199.46 2357.14ZM1242.68 2363.05L1248.98 2375.65L1236.38 2375.65ZM1279.6 2328.95L1285.9 2341.55L1273.3 2341.55ZM1316.51 2363.35L1322.81 2375.95L1310.21 2375.95ZM1353.43 2379.75L1359.73 2392.35L1347.13 2392.35ZM1390.35 2334.38L1396.65 2346.98L1384.05 2346.98ZM1427.26 2362.35L1433.56 2374.95L1420.96 2374.95Z" fill="#FF0062"/>
<polyline points="1058.1,2427.8 1131.93,2427.8 1168.85,2427.8 1205.76,2427.8 1242.68,2427.8 1279.6,2427.8 1316.51,2427.8 1353.43,2427.8 1390.35,2427.8 1427.26,2427.8" fill="none" stroke="#000" stroke-width="1.4"/>
<circle cx="1058.1" cy="2427.8" r="6.2"/>
<circle cx="1131.93" cy="2427.8" r="6.2"/>
<circle cx="1168.85" cy="2427.8" r="6.2"/>
<circle cx="1205.76" cy="2427.8" r="6.2"/>
<circle cx="1242.68" cy="2427.8" r="6.2"/>
<circle cx="1279.6" cy="2427.8" r="6.2"/>
<circle cx="1316.51" cy="2427.8" r="6.2"/>
<circle cx="1353.43" cy="2427.8" r="6.2"/>
<circle cx="1390.35" cy="2427.8" r="6.2"/>
<circle cx="1427.26" cy="2427.8" r="6.2"/>
</g>
</svg>
</body>
</html>
